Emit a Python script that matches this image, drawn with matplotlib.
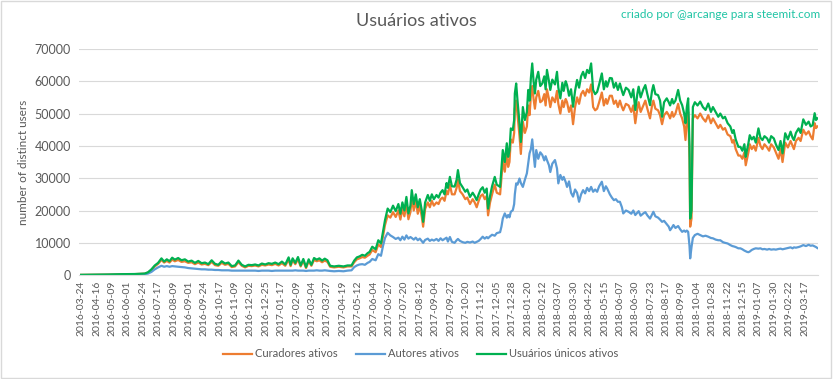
import matplotlib
matplotlib.use('Agg')
import matplotlib.pyplot as plt
from matplotlib.patches import Rectangle

plt.rcParams['font.family'] = ['Lato', 'DejaVu Sans']

day_idx = [
    0, 20, 40, 60, 80, 95, 100, 105, 110, 115, 120, 124, 128, 132, 136, 140, 145, 150, 155, 160,
    165, 170, 175, 180, 185, 190, 195, 200, 205, 210, 215, 220, 225, 230, 235, 240, 245, 250, 255, 260,
    265, 270, 275, 280, 285, 290, 295, 300, 305, 310, 313, 316, 320, 324, 328, 332, 336, 340, 344, 348,
    352, 356, 360, 364, 368, 372, 378, 385, 392, 398, 404, 408, 412, 416, 420, 424, 428, 431, 435, 440,
    444, 448, 451, 454, 458, 462, 466, 470, 474, 477, 480, 483, 486, 489, 492, 494, 497, 500, 503, 506,
    509, 511, 514, 518, 521, 524, 527, 531, 534, 537, 540, 543, 546, 548, 551, 554, 558, 561, 563, 566,
    570, 574, 577, 581, 585, 588, 591, 594, 597, 600, 603, 606, 608, 611, 614, 618, 621, 626, 628, 630,
    633, 636, 638, 640, 642, 645, 647, 648, 650, 652, 655, 657, 660, 663, 666, 668, 670, 672, 674, 676,
    678, 680, 683, 686, 689, 692, 694, 696, 699, 701, 704, 708, 711, 713, 716, 719, 721, 724, 726, 729,
    732, 735, 738, 741, 744, 747, 750, 753, 756, 759, 762, 765, 768, 771, 774, 778, 781, 784, 786, 790,
    793, 796, 799, 802, 805, 808, 810, 814, 818, 822, 825, 828, 831, 833, 836, 840, 843, 846, 850, 853,
    855, 858, 862, 865, 868, 871, 875, 878, 880, 883, 885, 888, 892, 895, 898, 901, 903, 905, 907, 909,
    910, 912, 914, 917, 921, 925, 929, 933, 937, 941, 944, 948, 952, 955, 959, 962, 966, 970, 973, 975,
    978, 982, 985, 988, 991, 993, 995, 997, 999, 1002, 1005, 1008, 1012, 1015, 1018, 1021, 1025, 1028, 1031, 1035,
    1038, 1042, 1045, 1048, 1052, 1056, 1060, 1063, 1065, 1068, 1072, 1075, 1079, 1083, 1087, 1090, 1093, 1096, 1098, 1100,
]

unicos = [
    100, 150, 200, 300, 350, 500, 900, 1800, 3000, 3800, 5200, 4200, 4900, 4300, 5400, 4800, 5300, 4600, 4900, 4200,
    4500, 3800, 4400, 3700, 3900, 3400, 4600, 3500, 3200, 4300, 3600, 3900, 2800, 3000, 4500, 3200, 2700, 3200, 3100, 3300,
    3000, 3600, 3300, 3700, 3500, 3900, 3400, 4200, 3300, 5500, 3200, 5200, 3800, 5600, 3000, 5000, 2500, 4900, 3200, 5300,
    4800, 5200, 4500, 5100, 4600, 2900, 2700, 2900, 2700, 3000, 3000, 4500, 5500, 5800, 6300, 6000, 6800, 7200, 8800, 8000,
    10800, 9800, 13500, 17000, 20600, 19500, 21500, 19800, 22000, 19000, 22500, 20000, 24200, 19100, 21500, 26300, 22000, 25000, 21000, 23500,
    20000, 16500, 22500, 24800, 23000, 25000, 23500, 24800, 24000, 25500, 26300, 25000, 28500, 27000, 30400, 27500, 27400, 29500, 32500, 28500,
    27200, 25800, 26500, 24200, 25500, 24500, 23200, 25000, 26500, 27200, 25500, 26800, 20600, 24500, 27500, 30400, 28000, 27300, 33000, 38700,
    35000, 40800, 36600, 38500, 45400, 44900, 48000, 56200, 59300, 54000, 47000, 41200, 52000, 48000, 50500, 57300, 54000, 61000, 65500, 60000,
    56200, 60500, 62900, 58500, 59300, 61500, 57500, 63500, 60000, 57300, 60500, 59000, 62900, 58000, 54700, 59500, 57000, 60000, 58800, 55500,
    57500, 52100, 57000, 60400, 58000, 61500, 62900, 61000, 63500, 62500, 65500, 57300, 56000, 56700, 59000, 62400, 57500, 60000, 58300, 61000,
    60900, 58000, 59500, 57300, 59300, 57000, 55700, 58000, 57300, 55000, 57500, 51100, 56000, 58300, 55000, 57500, 58800, 56000, 52600, 57000,
    58800, 56000, 55700, 54000, 49000, 53500, 54700, 53500, 52500, 54500, 53100, 54000, 57300, 54000, 52600, 50000, 47000, 52000, 54700, 40000,
    17500, 20000, 52000, 53500, 52500, 53700, 52000, 51100, 53100, 50500, 52000, 50500, 49000, 50000, 48500, 49000, 47000, 46000, 44000, 44900,
    42000, 39700, 39700, 38500, 40500, 36600, 38800, 40800, 43300, 42000, 42800, 41000, 45400, 42500, 41800, 43000, 42300, 41000, 43000, 42300,
    40500, 38700, 41500, 37700, 43900, 42000, 44400, 42500, 41800, 44000, 45400, 44000, 48200, 46500, 47500, 46000, 46400, 50100, 48000, 48500,
]

curadores = [
    90, 130, 180, 270, 320, 450, 800, 1600, 2700, 3500, 4700, 3900, 4400, 3900, 4800, 4300, 4700, 4100, 4300, 3800,
    4000, 3400, 3900, 3300, 3500, 3100, 4100, 3100, 2900, 3800, 3200, 3500, 2500, 2700, 4000, 2900, 2400, 2900, 2800, 3000,
    2700, 3200, 3000, 3300, 3100, 3500, 3000, 3700, 2900, 4800, 2800, 4600, 3400, 4900, 2700, 4400, 2200, 4300, 2900, 4700,
    4300, 4600, 4000, 4500, 4100, 2600, 2400, 2600, 2400, 2700, 2700, 4000, 4900, 5200, 5600, 5400, 6000, 6400, 7800, 7100,
    9500, 8700, 12000, 15500, 18500, 17800, 19500, 18000, 20000, 17200, 20500, 18200, 22000, 17300, 19500, 24000, 20000, 23000, 19000, 21500,
    18000, 15000, 20500, 22500, 21000, 23000, 21500, 22500, 22000, 23500, 24000, 23000, 26000, 25000, 28000, 25000, 25000, 27000, 29500, 26000,
    25000, 23500, 24000, 22000, 23500, 22500, 21000, 23000, 24500, 25000, 23500, 24500, 18500, 22500, 25000, 28000, 25500, 25000, 30000, 35500,
    32000, 37500, 33500, 35000, 42000, 41000, 44000, 51500, 54000, 49500, 43000, 37500, 47500, 44000, 46000, 52500, 49500, 55500, 58500, 54500,
    51500, 55000, 57000, 53500, 54000, 56000, 52500, 57500, 54500, 52000, 55000, 53500, 57000, 53000, 50000, 54000, 52000, 54500, 53500, 50500,
    52500, 46700, 52000, 55000, 53000, 56000, 57000, 55500, 57500, 56500, 59000, 52000, 51000, 51500, 53500, 56500, 52500, 54500, 53000, 55500,
    55500, 53000, 54000, 52000, 54000, 52000, 51000, 53000, 52500, 50500, 52500, 47000, 51500, 53500, 50500, 52500, 54000, 51500, 48500, 52500,
    54000, 51500, 51000, 49500, 46700, 49500, 50500, 49500, 48500, 50500, 49000, 50000, 53000, 50000, 48500, 46000, 41800, 48000, 50500, 36000,
    15000, 17500, 48500, 49500, 48500, 50000, 48500, 47500, 49500, 47000, 48500, 47000, 45500, 46500, 45000, 45500, 43500, 43000, 41000, 41800,
    39000, 37000, 37000, 36000, 38000, 34000, 36000, 38000, 40500, 39000, 40000, 38500, 42500, 40000, 39000, 40500, 39500, 38500, 40500, 39500,
    38000, 36000, 39000, 35000, 41000, 39500, 41500, 40000, 39000, 41500, 42500, 41500, 45000, 43500, 44500, 43000, 42000, 47000, 45500, 46000,
]

autores = [
    20, 40, 60, 100, 150, 250, 500, 1000, 1800, 2400, 2900, 2600, 2800, 2600, 2800, 2700, 2600, 2500, 2400, 2200,
    2100, 2000, 1900, 1800, 1800, 1700, 1700, 1600, 1600, 1500, 1500, 1500, 1400, 1400, 1400, 1400, 1400, 1400, 1400, 1400,
    1300, 1400, 1400, 1400, 1300, 1400, 1400, 1400, 1400, 1400, 1400, 1400, 1500, 1400, 1400, 1400, 1300, 1400, 1400, 1400,
    1500, 1400, 1400, 1500, 1400, 1300, 1200, 1300, 1200, 1400, 1500, 2500, 3000, 3300, 3400, 3200, 3800, 4100, 5000, 4600,
    6500, 6000, 9000, 11500, 13100, 12300, 11800, 11200, 11600, 10800, 11900, 11000, 12300, 11300, 11800, 11500, 11000, 11600, 10800, 11300,
    10500, 10000, 10900, 11300, 10600, 11000, 10700, 11200, 10600, 11400, 10800, 11200, 11600, 10400, 11800, 10300, 10000, 10800, 11200, 10600,
    10200, 10000, 10300, 10100, 10400, 10000, 10300, 10600, 11200, 11900, 11300, 11800, 11400, 12000, 12500, 12200, 13000, 13300, 15000, 17500,
    19100, 17800, 18600, 17900, 19600, 20100, 22000, 25000, 28400, 28000, 29900, 28500, 27300, 29500, 31500, 34500, 37700, 39000, 42000, 37500,
    33500, 38700, 36000, 38000, 37200, 35500, 36800, 35600, 34000, 31900, 34500, 35600, 33000, 28400, 31000, 29500, 30400, 28800, 27300, 29000,
    25500, 24300, 26500, 25500, 22700, 25000, 26300, 25300, 27000, 26000, 27300, 25800, 26500, 25800, 27500, 28900, 26000, 27500, 26800, 25000,
    24000, 23200, 23500, 22700, 22700, 21000, 19100, 20000, 19600, 19000, 20000, 18600, 19300, 19800, 18400, 19100, 19500, 18500, 17500, 18800,
    19600, 18200, 17800, 17200, 16500, 16800, 15800, 15000, 13900, 14800, 15500, 14600, 15200, 14200, 13400, 13800, 13400, 13800, 13400, 9000,
    5200, 8700, 11500, 12400, 12800, 12400, 12000, 12200, 11900, 11500, 11400, 11000, 10800, 10800, 10200, 10000, 9800, 9300, 9000, 8900,
    8700, 8300, 8300, 8000, 7600, 7400, 7200, 7100, 7300, 7800, 8100, 8300, 8200, 8300, 8000, 8100, 7900, 8100, 7900, 8000,
    7900, 8100, 8200, 8000, 8200, 8400, 8600, 8300, 8600, 8500, 8700, 8900, 9300, 9000, 9400, 9100, 9200, 8900, 8700, 8400,
]

tick_labels = [
    '2016-03-24', '2016-04-16', '2016-05-09', '2016-06-01', '2016-06-24', '2016-07-17',
    '2016-08-09', '2016-09-01', '2016-09-24', '2016-10-17', '2016-11-09', '2016-12-02',
    '2016-12-25', '2017-01-17', '2017-02-09', '2017-03-04', '2017-03-27', '2017-04-19',
    '2017-05-12', '2017-06-04', '2017-06-27', '2017-07-20', '2017-08-12', '2017-09-04',
    '2017-09-27', '2017-10-20', '2017-11-12', '2017-12-05', '2017-12-28', '2018-01-20',
    '2018-02-12', '2018-03-07', '2018-03-30', '2018-04-22', '2018-05-15', '2018-06-07',
    '2018-06-30', '2018-07-23', '2018-08-17', '2018-09-09', '2018-10-04', '2018-10-28',
    '2018-11-22', '2018-12-15', '2019-01-07', '2019-01-30', '2019-02-22', '2019-03-17',
]
TICK_STEP = 23
N_DAYS = 1101

GREY = '#595959'
fig = plt.figure(figsize=(8.33, 3.79), dpi=100)
ax = fig.add_axes([0.095, 0.274, 0.887, 0.597])

ax.plot(day_idx, curadores, color='#ED7D31', lw=1.6, label='Curadores ativos')
ax.plot(day_idx, autores, color='#5B9BD5', lw=1.6, label='Autores ativos')
ax.plot(day_idx, unicos, color='#00B050', lw=1.6, label='Usuários únicos ativos')

ax.set_xlim(-3, N_DAYS)
ax.set_ylim(0, 70000)
ax.set_yticks(range(0, 70001, 10000))
ax.set_xticks([i * TICK_STEP for i in range(len(tick_labels))])
ax.set_xticklabels(tick_labels, rotation=90, fontsize=7.5, color=GREY)
ax.tick_params(axis='y', labelsize=9, colors=GREY, length=0, pad=6)
ax.tick_params(axis='x', length=0, pad=4)
ax.grid(axis='y', color='#D9D9D9', lw=0.8)
ax.set_axisbelow(True)
for s in ['top', 'right', 'left']:
    ax.spines[s].set_visible(False)
ax.spines['bottom'].set_color('#D9D9D9')
ax.set_ylabel('number of distinct users', fontsize=8.5, color=GREY)

fig.text(0.5, 0.945, 'Usuários ativos', ha='center', va='center', fontsize=13, color=GREY)
fig.text(0.985, 0.963, 'criado por @arcange para steemit.com', ha='right', va='center',
         fontsize=8.5, color='#1FC4A4')

fig.legend(loc='center', bbox_to_anchor=(0.505, 0.066), ncol=3, frameon=False,
           fontsize=8, handlelength=2.6, handletextpad=0.3, columnspacing=1.6,
           labelcolor=GREY)

fig.patches.append(Rectangle((0.001, 0.002), 0.997, 0.995, transform=fig.transFigure,
                             fill=False, edgecolor='#D9D9D9', lw=1))

plt.savefig('out.png', dpi=100)
